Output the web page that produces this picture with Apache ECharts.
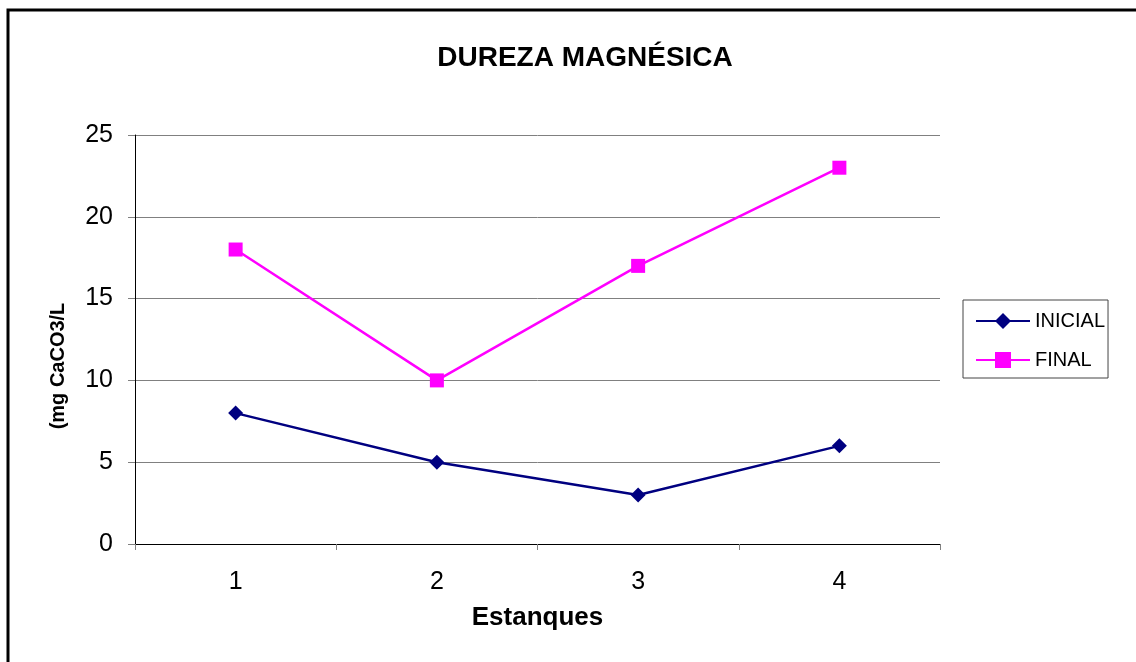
<!DOCTYPE html>
<html>
<head>
<meta charset="utf-8">
<script src="https://cdn.jsdelivr.net/npm/echarts@6/dist/echarts.min.js"></script>
<style>
  html, body { margin: 0; padding: 0; background: #fff; }
  #chart { width: 1136px; height: 662px; }
</style>
</head>
<body>
<div id="chart"></div>
<script>
// datos
const estanques = ['1', '2', '3', '4']
const inicial = [8, 5, 3, 6]
const final = [18, 10, 17, 23]

const FONT = '"Liberation Sans", Arial, sans-serif'

const chart = echarts.init(document.getElementById('chart'))
chart.setOption({
  backgroundColor: '#fff',
  animation: false,
  textStyle: { fontFamily: FONT },
  title: {
    text: 'DUREZA MAGNÉSICA',
    left: 580,
    textAlign: 'center',
    top: 39,
    textStyle: { fontSize: 28, fontWeight: 'bold', color: '#000', fontFamily: FONT }
  },
  grid: { left: 135, top: 135, width: 805, height: 409 },
  legend: {
    orient: 'vertical',
    left: 963,
    top: 300,
    padding: [11, 3, 8, 12],
    itemGap: 19,
    itemWidth: 54,
    itemHeight: 20,
    borderColor: '#444',
    borderWidth: 1,
    textStyle: { fontSize: 20, color: '#000', fontFamily: FONT },
    data: ['INICIAL', 'FINAL']
  },
  xAxis: {
    type: 'category',
    data: estanques,
    boundaryGap: true,
    name: 'Estanques',
    nameLocation: 'middle',
    nameGap: 61,
    nameTextStyle: { fontSize: 26, fontWeight: 'bold', color: '#000' },
    axisLine: { lineStyle: { color: '#000', width: 1 } },
    axisTick: { show: true, length: 6, lineStyle: { color: '#808080' } },
    axisLabel: { fontSize: 25, color: '#000', margin: 26 },
    splitLine: { show: false }
  },
  yAxis: {
    type: 'value',
    min: 0,
    max: 25,
    interval: 5,
    axisLine: { show: true, lineStyle: { color: '#000', width: 1 } },
    axisTick: { show: true, length: 7, lineStyle: { color: '#808080' } },
    axisLabel: { fontSize: 25, color: '#000', margin: 22 },
    splitLine: { show: true, lineStyle: { color: '#808080', width: 1 } }
  },
  graphic: [
    {
      type: 'rect',
      shape: { x: 8, y: 10, width: 1200, height: 700 },
      style: { fill: 'none', stroke: '#000', lineWidth: 3 },
      silent: true
    },
    {
      type: 'text',
      x: 58,
      y: 366,
      rotation: Math.PI / 2,
      style: {
        text: '(mg CaCO3/L',
        fontSize: 20,
        fontWeight: 'bold',
        fontFamily: FONT,
        fill: '#000',
        align: 'center',
        verticalAlign: 'middle'
      }
    }
  ],
  series: [
    {
      name: 'INICIAL',
      type: 'line',
      data: inicial,
      symbol: 'diamond',
      symbolSize: 15,
      lineStyle: { color: '#000080', width: 2.5 },
      itemStyle: { color: '#000080' }
    },
    {
      name: 'FINAL',
      type: 'line',
      data: final,
      symbol: 'rect',
      symbolSize: 14,
      lineStyle: { color: '#ff00ff', width: 2.5 },
      itemStyle: { color: '#ff00ff' }
    }
  ]
})
</script>
</body>
</html>
